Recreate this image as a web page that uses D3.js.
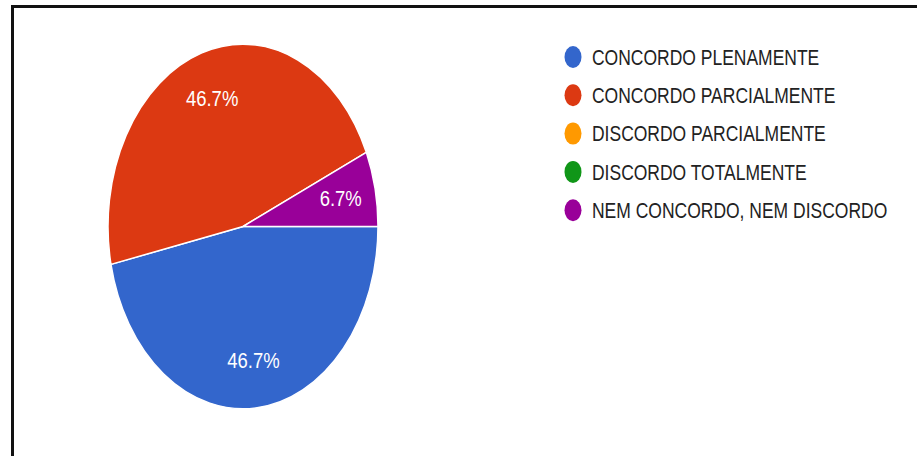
<!DOCTYPE html>
<html lang="pt">
<head>
    <meta charset="utf-8">
    <title>Pie chart</title>
    <script src="https://d3js.org/d3.v7.min.js"></script>
    <style>
        body { margin: 0; background: #fff; }
        text { font-family: "Liberation Sans", Arial, sans-serif; }
    </style>
</head>
<body>
<script type="text/javascript">

    var w = 917;
    var h = 456;

    // answers (counts out of 15)
    var categories = ["CONCORDO PLENAMENTE", "CONCORDO PARCIALMENTE", "DISCORDO PARCIALMENTE",
        "DISCORDO TOTALMENTE", "NEM CONCORDO, NEM DISCORDO"];
    var counts = [7, 7, 0, 0, 1];
    var colors = ["#3366cc", "#dc3912", "#ff9900", "#109618", "#990099"];

    var data = categories.map(function (c, i) {
        return {name: c, value: counts[i], color: colors[i]};
    });
    var total = d3.sum(counts);

    var svg = d3.select("body")
            .append("svg")
            .attr("width", w)
            .attr("height", h);

    // frame (only top and left edges visible in the picture)
    svg.append("path")
            .attr("d", "M12.5," + h + "V6.5H" + w)
            .attr("fill", "none")
            .attr("stroke", "#111")
            .attr("stroke-width", 3);

    // the picture is stretched vertically, so the pie is an ellipse
    var r = 135;
    var sy = 1.35;
    var g = svg.append("g")
            .attr("transform", "translate(243,226.5) scale(1," + sy + ")");

    var pie = d3.pie()
            .value(function (d) { return d.value; })
            .sort(null)
            .startAngle(Math.PI / 2)
            .endAngle(Math.PI / 2 + 2 * Math.PI);

    var arc = d3.arc().innerRadius(0).outerRadius(r);
    var labelArc = d3.arc().innerRadius(r * 0.74).outerRadius(r * 0.74);

    var slices = pie(data).filter(function (d) { return d.value > 0; });

    g.selectAll("path.slice")
            .data(slices)
            .enter()
            .append("path")
            .attr("class", "slice")
            .attr("d", arc)
            .attr("fill", function (d) { return d.data.color; })
            .attr("stroke", "#fff")
            .attr("stroke-width", 1.5)
            .attr("vector-effect", "non-scaling-stroke");

    g.selectAll("text.pct")
            .data(slices)
            .enter()
            .append("text")
            .attr("class", "pct")
            .attr("transform", function (d) {
                var c = labelArc.centroid(d);
                return "translate(" + c[0] + "," + c[1] + ") scale(1," + (1.2 / sy) + ")";
            })
            .attr("text-anchor", "middle")
            .attr("dy", "0.35em")
            .attr("fill", "#fff")
            .attr("font-size", 18.5)
            .text(function (d) { return (d.value / total * 100).toFixed(1) + "%"; });

    // legend
    var legend = svg.append("g").attr("transform", "translate(573,57)");
    var item = legend.selectAll("g")
            .data(data)
            .enter()
            .append("g")
            .attr("transform", function (d, i) { return "translate(0," + (i * 38.3) + ")"; });

    item.append("ellipse")
            .attr("rx", 8.5)
            .attr("ry", 11)
            .attr("fill", function (d) { return d.color; });

    item.append("text")
            .attr("x", 19)
            .attr("dy", "0.35em")
            .attr("transform", "scale(1,1.28)")
            .attr("fill", "#222")
            .attr("font-size", 17.5)
            .text(function (d) { return d.name; });

</script>
</body>
</html>
